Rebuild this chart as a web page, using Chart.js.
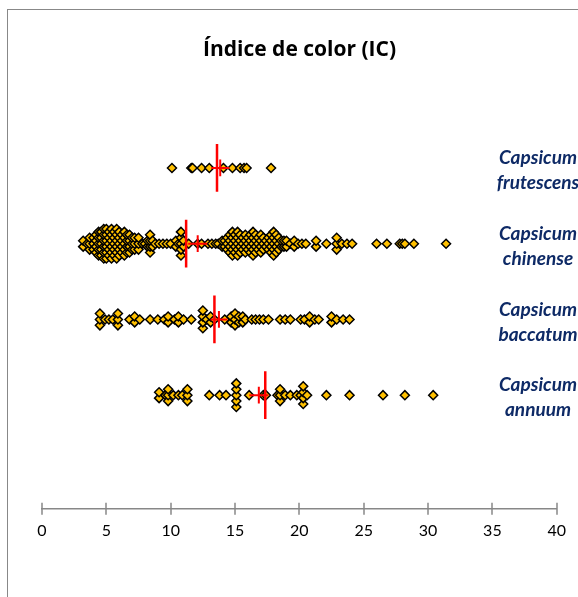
<!DOCTYPE html>
<html>
<head>
<meta charset="utf-8">
<script src="https://cdn.jsdelivr.net/npm/chart.js@4.4.1/dist/chart.umd.min.js"></script>
<style>
  html, body { margin: 0; padding: 0; background: #fff; }
  canvas { display: block; }
</style>
</head>
<body>
<canvas id="grafico" width="578" height="597"></canvas>
<script>
// especies (de abajo hacia arriba) y su fila en el eje y
var especies = [['Capsicum', 'annuum'], ['Capsicum', 'baccatum'], ['Capsicum', 'chinense'], ['Capsicum', 'frutescens']];
var filas = [1, 2, 3, 4];

// valores del índice de color
var annuum = [9.1, 9.1, 9.6, 9.8, 9.8, 9.8, 10.2, 10.6, 10.9, 11.3, 11.3, 11.3, 13.0, 13.8, 14.3,
  15.1, 15.1, 15.1, 15.1, 15.1, 16.1, 17.2, 17.4, 18.3, 18.5, 18.5, 18.5, 18.9, 19.3, 19.8,
  20.1, 20.3, 20.3, 20.3, 20.3, 20.6, 22.1, 23.9, 26.5, 28.2, 30.4];

var baccatum = [4.5, 4.5, 4.5, 4.9, 5.2, 5.5, 5.9, 5.9, 5.9, 6.8, 7.2, 7.2, 7.6, 8.4, 9.0, 9.5,
  9.8, 9.8, 10.3, 10.6, 10.6, 11.0, 11.6, 12.5, 12.5, 12.5, 12.5, 12.8, 13.1, 13.1, 13.4, 14.2,
  14.7, 14.7, 15.0, 15.0, 15.0, 15.3, 15.3, 15.6, 15.6, 15.8, 16.3, 16.6, 16.9, 17.2, 17.6,
  18.5, 18.9, 19.3, 20.1, 20.4, 20.8, 20.8, 21.2, 21.5, 22.5, 22.5, 22.9, 23.4, 23.9];

var chinense = [3.2, 3.2, 3.5, 3.7, 3.7, 3.7, 4.0, 4.0, 4.0, 4.2, 4.2, 4.2, 4.2,
  4.4, 4.4, 4.4, 4.4, 4.4, 4.6, 4.6, 4.6, 4.6, 4.6, 4.8, 4.8, 4.8, 4.8, 4.8, 4.8,
  5.0, 5.0, 5.0, 5.0, 5.0, 5.0, 5.2, 5.2, 5.2, 5.2, 5.2, 5.4, 5.4, 5.4, 5.4, 5.4, 5.4,
  5.6, 5.6, 5.6, 5.6, 5.6, 5.8, 5.8, 5.8, 5.8, 5.8, 5.8, 6.0, 6.0, 6.0, 6.0, 6.0,
  6.2, 6.2, 6.2, 6.2, 6.4, 6.4, 6.4, 6.4, 6.4, 6.6, 6.6, 6.6, 6.6, 6.8, 6.8, 6.8, 6.8,
  7.0, 7.0, 7.0, 7.2, 7.2, 7.2, 7.5, 7.5, 7.5, 7.8,
  8.0, 8.2, 8.2, 8.4, 8.4, 8.4, 8.4, 8.6, 8.6, 8.8, 9.1, 9.4, 9.7, 10.0, 10.4, 10.4, 10.6,
  10.8, 10.8, 10.8, 10.8, 10.8, 11.0, 11.0, 11.4, 12.1, 12.4,
  12.9, 13.2, 13.5, 13.7, 14.0, 14.0, 14.2, 14.2, 14.4, 14.4, 14.4, 14.6, 14.6, 14.6, 14.6,
  14.8, 14.8, 14.8, 14.8, 14.8, 15.0, 15.0, 15.0, 15.0, 15.2, 15.2, 15.2, 15.2, 15.2,
  15.4, 15.4, 15.4, 15.4, 15.6, 15.6, 15.6, 15.8, 15.8, 15.8, 15.8, 16.0, 16.0, 16.0,
  16.2, 16.2, 16.2, 16.2, 16.4, 16.4, 16.4, 16.4, 16.4, 16.6, 16.6, 16.6, 16.6,
  16.8, 16.8, 16.8, 17.0, 17.0, 17.0, 17.0, 17.2, 17.2, 17.2, 17.4, 17.4, 17.6, 17.6, 17.6,
  17.8, 17.8, 17.8, 17.8, 18.0, 18.0, 18.0, 18.0, 18.0, 18.2, 18.2, 18.2, 18.2,
  18.4, 18.4, 18.4, 18.6, 18.6, 18.8, 18.8, 19.0, 19.0, 19.3, 19.6, 19.6, 19.9, 20.2, 20.5,
  21.3, 21.3, 22.1, 22.9, 22.9, 22.9, 23.3, 23.7, 24.1, 26.0, 26.8, 27.8, 28.0, 28.2, 28.9, 31.4];

var frutescens = [10.1, 11.6, 11.7, 12.4, 13.0, 14.1, 14.8, 15.4, 15.7, 15.9, 17.8];

// mediana, media y error de la media (en el mismo orden que especies)
var medianas = [17.35, 13.4, 11.2, 13.6];
var medias = [16.85, 13.75, 12.1, 13.85];
var errores = [0.74, 0.65, 0.74, 0.7];

var ticksX = [0, 5, 10, 15, 20, 25, 30, 35, 40];

var series = [annuum, baccatum, chinense, frutescens];

// apila los valores repetidos en vertical, centrados en la fila
function apilar(valores, fila, paso) {
  var grupos = {};
  valores.forEach(function (v) {
    var k = v.toFixed(2);
    grupos[k] = (grupos[k] || 0) + 1;
  });
  var puntos = [];
  Object.keys(grupos).forEach(function (k) {
    var n = grupos[k];
    for (var i = 0; i < n; i++) {
      puntos.push({ x: parseFloat(k), y: fila + (i - (n - 1) / 2) * paso });
    }
  });
  return puntos;
}

function construirDatasets(paso) {
  var ds = [];
  for (var i = 0; i < series.length; i++) {
    var f = filas[i];
    ds.push({ data: [{ x: medianas[i], y: f - 0.315 }, { x: medianas[i], y: f + 0.315 }],
      showLine: true, borderColor: '#ff0000', borderWidth: 2.5, pointRadius: 0, order: 0 });
    ds.push({ data: [{ x: medias[i] - errores[i], y: f }, { x: medias[i] + errores[i], y: f }],
      showLine: true, borderColor: '#ff0000', borderWidth: 2, pointRadius: 0, order: 0 });
    ds.push({ data: [{ x: medias[i], y: f - 0.11 }, { x: medias[i], y: f + 0.11 }],
      showLine: true, borderColor: '#ff0000', borderWidth: 2, pointRadius: 0, order: 0 });
  }
  for (var j = 0; j < series.length; j++) {
    ds.push({
      data: apilar(series[j], filas[j], paso),
      pointStyle: 'rectRot',
      pointRadius: 4.5,
      pointBackgroundColor: '#ffc000',
      pointBorderColor: '#000000',
      pointBorderWidth: 1.5,
      order: 1
    });
  }
  return ds;
}

var extras = {
  id: 'extras',
  afterDraw: function (chart) {
    var ctx = chart.ctx;
    var sx = chart.scales.x, sy = chart.scales.y;
    ctx.save();
    // marco del gráfico
    ctx.strokeStyle = '#888888';
    ctx.lineWidth = 1;
    ctx.strokeRect(7.5, 9.5, 800, 800);
    // marcas cruzadas del eje x
    ctx.strokeStyle = '#878787';
    ctx.lineWidth = 1.5;
    ticksX.forEach(function (t) {
      var px = Math.round(sx.getPixelForValue(t));
      ctx.beginPath();
      ctx.moveTo(px, sx.top - 6);
      ctx.lineTo(px, sx.top + 6);
      ctx.stroke();
    });
    // nombres de las especies
    ctx.font = 'italic bold 19px Lato';
    ctx.fillStyle = '#0e2a66';
    ctx.textAlign = 'center';
    ctx.textBaseline = 'middle';
    especies.forEach(function (e, i) {
      var py = sy.getPixelForValue(filas[i]);
      ctx.fillText(e[0], 538, py - 10);
      ctx.fillText(e[1], 538, py + 15);
    });
    ctx.restore();
  }
};

Chart.defaults.font.family = 'Lato';

var ctx = document.getElementById('grafico').getContext('2d');
var grafico = new Chart(ctx, {
  type: 'scatter',
  data: { datasets: construirDatasets(0.08) },
  options: {
    responsive: false,
    animation: false,
    layout: { padding: { left: 42, right: 21, top: 0, bottom: 45 } },
    scales: {
      x: {
        min: 0, max: 40,
        afterBuildTicks: function (axis) {
          axis.ticks = ticksX.map(function (v) { return { value: v }; });
        },
        grid: { display: false, drawTicks: false },
        border: { display: true, color: '#878787', width: 1.5 },
        ticks: { color: '#000000', font: { size: 16 }, padding: 12 }
      },
      y: {
        display: false,
        min: -0.5, max: 5
      }
    },
    plugins: {
      legend: { display: false },
      tooltip: { enabled: false },
      title: {
        display: true,
        text: 'Índice de color (IC)',
        color: '#000000',
        font: { family: 'Open Sans', size: 21, weight: 'bold' },
        padding: { top: 37, bottom: 30 }
      }
    }
  },
  plugins: [extras]
});

// separación vertical de los puntos repetidos: ~5.9 px
var unidad = Math.abs(grafico.scales.y.getPixelForValue(0) - grafico.scales.y.getPixelForValue(1));
grafico.data.datasets = construirDatasets(5.9 / unidad);
grafico.update('none');
</script>
</body>
</html>
